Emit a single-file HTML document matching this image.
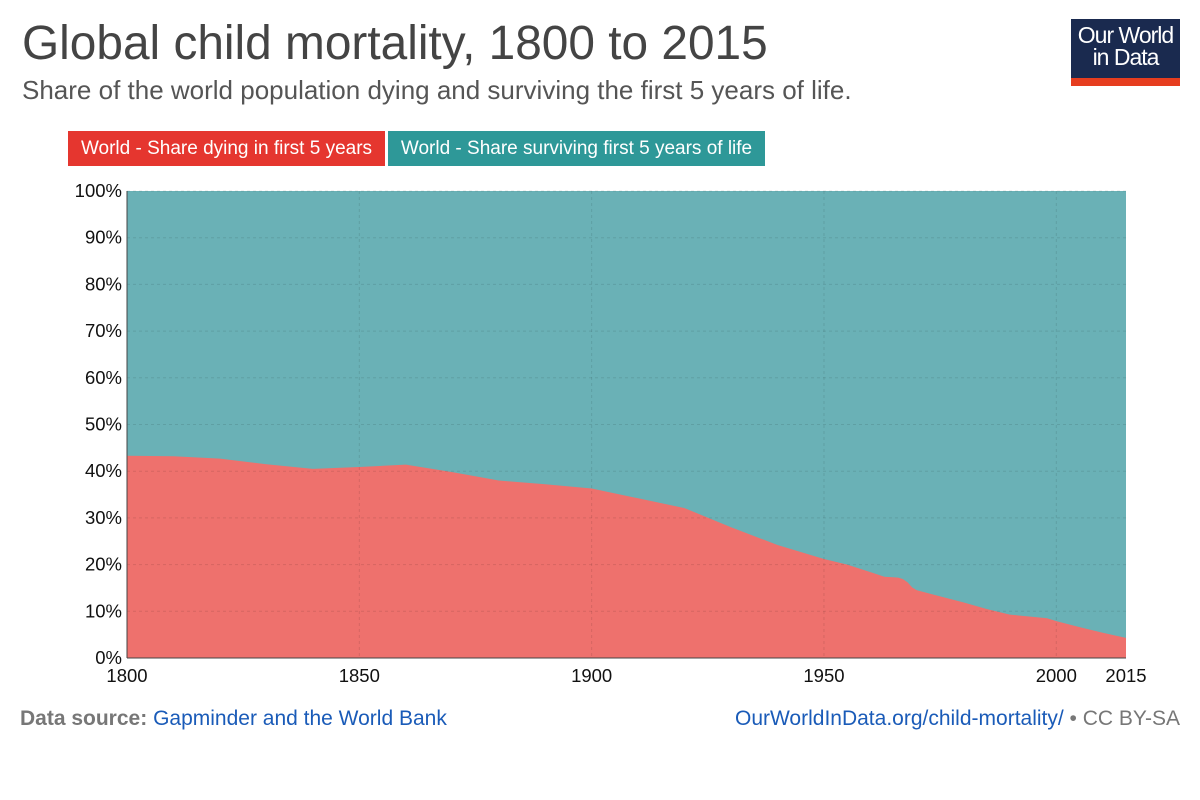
<!DOCTYPE html>
<html><head><meta charset="utf-8"><style>
body{margin:0;width:1200px;height:800px;background:#fff;font-family:"Liberation Sans",sans-serif;position:relative;overflow:hidden}
.abs{position:absolute}
</style></head><body>
<div class="abs" style="left:22px;top:16px;font-size:47.8px;color:#444;white-space:nowrap">Global child mortality, 1800 to 2015</div>
<div class="abs" style="left:22px;top:75px;font-size:26px;color:#555;white-space:nowrap">Share of the world population dying and surviving the first 5 years of life.</div>
<div class="abs" style="left:1071px;top:19px;width:109px;height:67px;background:#1a2a4f;color:#fff;font-size:23px;line-height:22px;text-align:center;letter-spacing:-1px">
<div style="padding-top:5px">Our World<br>in Data</div>
<div style="position:absolute;left:0;bottom:0;width:109px;height:8px;background:#e63d1f"></div></div>
<div class="abs" style="left:68px;top:131px;width:317px;height:35px;background:#e5362f;color:#fff;font-size:19px;line-height:35px;text-align:center;white-space:nowrap">World - Share dying in first 5 years</div>
<div class="abs" style="left:388px;top:131px;width:377px;height:35px;background:#2e9898;color:#fff;font-size:19px;line-height:35px;text-align:center;white-space:nowrap">World - Share surviving first 5 years of life</div>
<svg class="abs" style="left:0;top:0" width="1200" height="800" id="chart"></svg>
<div class="abs" style="left:20px;top:707px;font-size:21px;color:#777;white-space:nowrap"><b>Data source:</b> <span style="color:#1a5bb8">Gapminder and the World Bank</span></div>
<div class="abs" style="right:20px;top:707px;font-size:21px;color:#1a5bb8;white-space:nowrap">OurWorldInData.org/child-mortality/ <span style="color:#777">• CC BY-SA</span></div>
<script>
const years=[1800,1810,1820,1830,1840,1850,1860,1870,1880,1890,1900,1910,1920,1930,1940,1950,1955,1960,1963,1966,1967,1968,1969,1970,1975,1980,1985,1990,1995,1998,2000,2005,2010,2015];
const dying=[43.3,43.2,42.7,41.5,40.5,40.9,41.4,39.8,38.0,37.2,36.3,34.2,32.1,28.0,24.2,21.2,20.0,18.4,17.4,17.2,16.9,16.2,15.1,14.5,13.2,11.9,10.5,9.3,8.8,8.5,7.9,6.6,5.4,4.3];
const yTicks=[0,10,20,30,40,50,60,70,80,90,100];
const xTicks=[1800,1850,1900,1950,2000,2015];
const X=y=>127+(y-1800)*(999/215);
const Y=v=>658-v*4.67;
const svg=document.getElementById('chart');const NS='http://www.w3.org/2000/svg';
function mk(t,a){const e=document.createElementNS(NS,t);for(const k in a)e.setAttribute(k,a[k]);svg.appendChild(e);return e;}
const bg=mk('rect',{x:X(1800),y:Y(100),width:X(2015)-X(1800),height:Y(0)-Y(100),fill:'#6ab1b6'});


let d='M'+X(1800)+','+Y(0);
years.forEach((yr,i)=>{d+=' L'+X(yr)+','+Y(dying[i]);});
d+=' L'+X(2015)+','+Y(0)+'Z';
const ar=mk('path',{d:d,fill:'#ee716d'});


yTicks.forEach(v=>{
 const g=mk('line',{x1:X(1800),x2:X(2015),y1:Y(v),y2:Y(v),stroke:'#000','stroke-opacity':0.1,'stroke-dasharray':'3,3'});
 
 
 const t=mk('text',{x:122,y:Y(v)+6,'text-anchor':'end','font-size':18.5,fill:'#111'});t.textContent=v+'%';
 
 
});
xTicks.forEach(v=>{
 if(v!==1800&&v!==2015){const g=mk('line',{x1:X(v),x2:X(v),y1:Y(100),y2:Y(0),stroke:'#000','stroke-opacity':0.1,'stroke-dasharray':'3,3'});
 
 }
 const t=mk('text',{x:X(v),y:682,'text-anchor':'middle','font-size':18.5,fill:'#111'});t.textContent=v;
 
 
});
const ax=mk('line',{x1:X(1800),x2:X(1800),y1:Y(100),y2:Y(0),stroke:'#444'});


const bx=mk('line',{x1:X(1800),x2:X(2015),y1:Y(0),y2:Y(0),stroke:'#444'});


</script>
</body></html>
